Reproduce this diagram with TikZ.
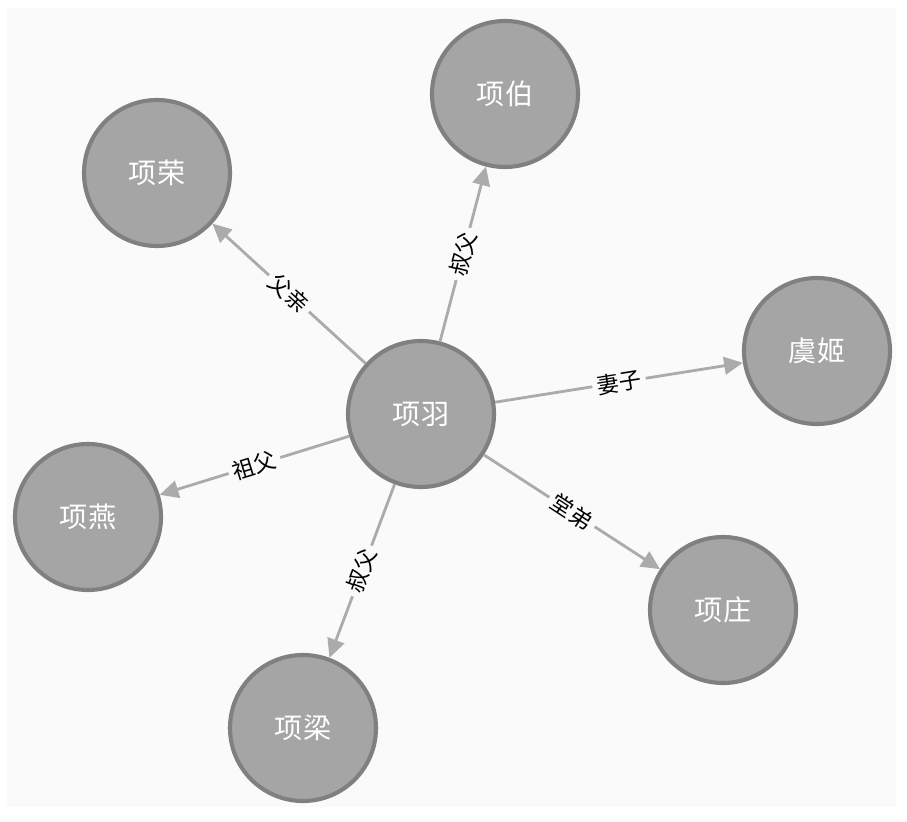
\documentclass[tikz,border=0pt]{standalone}
\usepackage{fontspec}
\newfontfamily\cjk{Noto Sans CJK SC}
\usepackage{tikz}
\usetikzlibrary{arrows.meta}

\definecolor{sfondo}{HTML}{FAFAFA}
\definecolor{riempimento}{HTML}{A5A5A5}
\definecolor{bordo}{HTML}{808080}
\definecolor{freccia}{HTML}{ABABAB}

\begin{document}
\begin{tikzpicture}[x=0.03cm, y=-0.03cm,
		persona/.style={circle, draw=bordo, line width=3.5pt, fill=riempimento, minimum size=4.38cm, inner sep=0pt, text=white, font=\cjk\fontsize{24}{24}\selectfont},
		relazione/.style={draw=freccia, line width=2.4pt, -{Triangle[length=16pt, width=15pt]}},
		etichetta/.style={sloped, midway, fill=sfondo, inner sep=4pt, text=black, font=\cjk\fontsize{19}{19}\selectfont}]
			% Sfondo e riquadro
			\useasboundingbox (0,0) rectangle (907,821);
			\fill[sfondo] (7,8) rectangle (896,807);
			
			% Nodi dei personaggi
			\node[persona] (yu)    at (421,414) {项羽};
			\node[persona] (bo)    at (505,94)  {项伯};
			\node[persona] (rong)  at (157,173) {项荣};
			\node[persona] (ji)    at (817,351) {虞姬};
			\node[persona] (yan)   at (88,517)  {项燕};
			\node[persona] (liang) at (303,728) {项梁};
			\node[persona] (zhuang) at (723,610) {项庄};
			
			% Relazioni (frecce con etichetta)
			\draw[relazione] (yu) -- (rong)   node[etichetta] {父亲};
			\draw[relazione] (yu) -- (bo)     node[etichetta] {叔父};
			\draw[relazione] (yu) -- (ji)     node[etichetta] {妻子};
			\draw[relazione] (yu) -- (yan)    node[etichetta] {祖父};
			\draw[relazione] (yu) -- (liang)  node[etichetta] {叔父};
			\draw[relazione] (yu) -- (zhuang) node[etichetta] {堂弟};
		\end{tikzpicture}
\end{document}
